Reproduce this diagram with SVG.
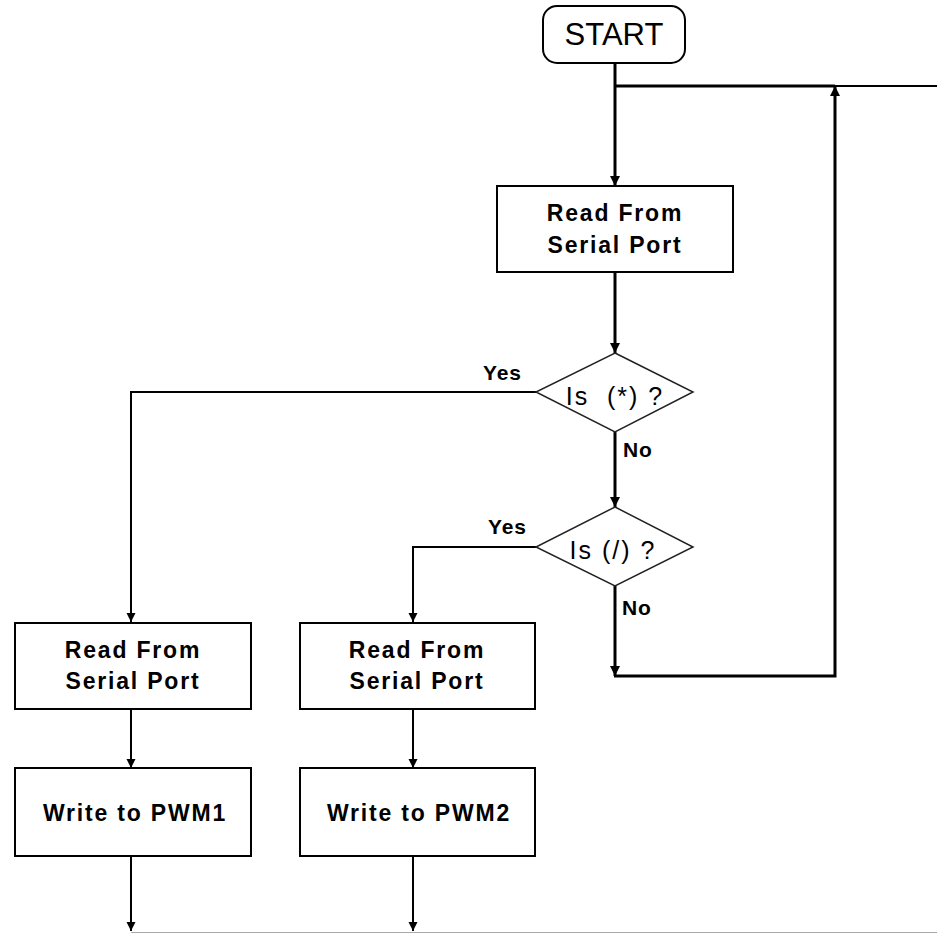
<svg xmlns="http://www.w3.org/2000/svg" width="937" height="934" viewBox="0 0 937 934">
<style>
.box{fill:#fff;stroke:#000;stroke-width:2}
.dia{fill:#fff;stroke:#222;stroke-width:1.5}
.btxt{font-family:"Liberation Sans",Arial,sans-serif;font-weight:bold;font-size:23px;letter-spacing:1.8px;text-anchor:middle;fill:#000}
.dtxt{font-family:"Liberation Sans",Arial,sans-serif;font-size:25px;letter-spacing:2px;text-anchor:middle;fill:#000}
.lbl{font-family:"Liberation Sans",Arial,sans-serif;font-weight:bold;font-size:21px;letter-spacing:0.8px;fill:#000}
.thick{fill:none;stroke:#000;stroke-width:3}
.thin{fill:none;stroke:#000;stroke-width:2}
</style>
<defs>
<marker id="ah" viewBox="0 0 10 10" refX="10" refY="5" markerWidth="10" markerHeight="11" markerUnits="userSpaceOnUse" orient="auto"><path d="M0,0 L10,5 L0,10 z" fill="#000"/></marker>
<marker id="ahs" viewBox="0 0 10 10" refX="10" refY="5" markerWidth="9" markerHeight="10" markerUnits="userSpaceOnUse" orient="auto"><path d="M0,0 L10,5 L0,10 z" fill="#000"/></marker>
</defs>
<g id="connectors">
<line class="thick" x1="615" y1="63" x2="615" y2="186" marker-end="url(#ah)"/>
<line class="thick" x1="615" y1="86" x2="835" y2="86"/>
<line class="thin" x1="835" y1="86" x2="937" y2="86"/>
<line class="thick" x1="615" y1="272" x2="615" y2="353" marker-end="url(#ah)"/>
<line class="thick" x1="615" y1="432" x2="615" y2="507" marker-end="url(#ah)"/>
<line class="thick" x1="615" y1="586" x2="615" y2="676" marker-end="url(#ah)"/>
<polyline class="thick" points="614,676 835,676 835,86" marker-end="url(#ah)"/>
<polyline class="thin" points="536,392 131,392 131,622" marker-end="url(#ahs)"/>
<polyline class="thin" points="536,547 413,547 413,622" marker-end="url(#ahs)"/>
<line class="thin" x1="131" y1="709" x2="131" y2="768" marker-end="url(#ahs)"/>
<line class="thin" x1="413" y1="709" x2="413" y2="768" marker-end="url(#ahs)"/>
<line class="thin" x1="131" y1="856" x2="131" y2="931" marker-end="url(#ahs)"/>
<line class="thin" x1="413" y1="856" x2="413" y2="931" marker-end="url(#ahs)"/>
<line x1="131" y1="932.5" x2="937" y2="932.5" stroke="#aaa" stroke-width="1"/>
</g>
<g id="start">
<rect x="543" y="6" width="142" height="57" rx="14" ry="14" fill="#fff" stroke="#000" stroke-width="2"/>
<text x="614" y="45" font-family="Liberation Sans, Arial, sans-serif" font-size="31" text-anchor="middle">START</text>
</g>
<g id="read1">
<rect class="box" x="497" y="186" width="236" height="86"/>
<text class="btxt" x="615" y="221">Read From</text>
<text class="btxt" x="615" y="253">Serial Port</text>
</g>
<g id="dec1">
<polygon class="dia" points="615,353 693,392 615,432 536,392"/>
<text class="dtxt" x="615" y="405" xml:space="preserve">Is  (*) ?</text>
<text class="lbl" x="483" y="380">Yes</text>
<text class="lbl" x="623" y="457">No</text>
</g>
<g id="dec2">
<polygon class="dia" points="615,507 693,547 615,586 536,547"/>
<text class="dtxt" x="613" y="559" xml:space="preserve">Is (/) ?</text>
<text class="lbl" x="488" y="534">Yes</text>
<text class="lbl" x="622" y="615">No</text>
</g>
<g id="read2">
<rect class="box" x="15" y="623" width="236" height="86"/>
<text class="btxt" x="133" y="658">Read From</text>
<text class="btxt" x="133" y="689">Serial Port</text>
</g>
<g id="read3">
<rect class="box" x="300" y="623" width="235" height="86"/>
<text class="btxt" x="417" y="658">Read From</text>
<text class="btxt" x="417" y="689">Serial Port</text>
</g>
<g id="pwm1">
<rect class="box" x="15" y="768" width="236" height="88"/>
<text class="btxt" x="135" y="821">Write to PWM1</text>
</g>
<g id="pwm2">
<rect class="box" x="300" y="768" width="235" height="88"/>
<text class="btxt" x="419" y="821">Write to PWM2</text>
</g>
</svg>
